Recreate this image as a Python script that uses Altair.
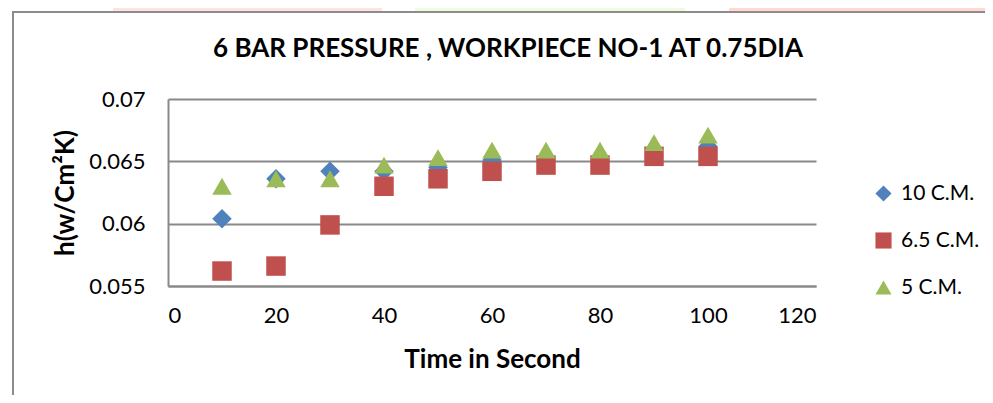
import altair as alt
import pandas as pd

time_s = [10, 20, 30, 40, 50, 60, 70, 80, 90, 100]
series = ["10 C.M.", "6.5 C.M.", "5 C.M."]
h_10 = [0.0604, 0.0636, 0.0642, 0.0642, 0.0645, 0.0651, 0.0650, 0.0650, 0.0655, 0.0662]
h_65 = [0.0562, 0.0566, 0.0599, 0.0630, 0.0636, 0.0642, 0.0647, 0.0647, 0.0654, 0.0654]
h_5 = [0.0630, 0.0636, 0.0636, 0.0647, 0.0653, 0.0659, 0.0659, 0.0659, 0.0665, 0.0671]
colors = ["#4F81BD", "#C0504D", "#9BBB59"]
shapes = ["diamond", "square", "triangle-up"]
x_ticks = [0, 20, 40, 60, 80, 100, 120]
y_ticks = [0.055, 0.06, 0.065, 0.07]

rows = []
for name, vals in zip(series, [h_10, h_65, h_5]):
    for t, v in zip(time_s, vals):
        rows.append({"Time": t, "h": v, "Series": name})
df = pd.DataFrame(rows)

FONT = "Lato"
W, H = 648, 187
GRID = "#898989"

points = alt.Chart(df).mark_point(filled=True, opacity=1, size=380, strokeWidth=0).encode(
    x=alt.X("Time:Q", scale=alt.Scale(domain=[0, 120], nice=False, zero=False),
            axis=alt.Axis(values=x_ticks, title="Time in Second", grid=False, ticks=False,
                          domainColor=GRID, domainWidth=2, labelFont=FONT, labelFontSize=22,
                          labelColor="#000000", labelPadding=19, titleFont=FONT, titleFontSize=26,
                          titleFontWeight="bold", titleColor="#000000", titleY=73,
                          titleBaseline="middle")),
    y=alt.Y("h:Q", scale=alt.Scale(domain=[0.055, 0.07], nice=False, zero=False),
            axis=alt.Axis(values=y_ticks, format="~g", title="h(w/Cm²K)", grid=True, gridColor=GRID,
                          gridWidth=2, ticks=False, domainColor=GRID, domainWidth=2, labelFont=FONT,
                          labelFontSize=22, labelColor="#000000", labelPadding=23, titleFont=FONT,
                          titleFontSize=26, titleFontWeight="bold", titleColor="#000000",
                          titleX=-103, titleBaseline="middle", titleAngle=-90)),
    color=alt.Color("Series:N", scale=alt.Scale(domain=series, range=colors),
                    legend=alt.Legend(title=None)),
    shape=alt.Shape("Series:N", scale=alt.Scale(domain=series, range=shapes),
                    legend=alt.Legend(title=None)),
    order=alt.Order("idx:Q"),
).transform_calculate(idx="indexof(['10 C.M.','6.5 C.M.','5 C.M.'], datum.Series)")

frame_df = pd.DataFrame({"a": [0]})
wm1 = alt.Chart(frame_df).mark_rect(color="#FFE3E3").encode(
    x=alt.value(-55), x2=alt.value(214), y=alt.value(-99), y2=alt.value(-88))
wm2 = alt.Chart(frame_df).mark_rect(color="#EEFBE0").encode(
    x=alt.value(247), x2=alt.value(517), y=alt.value(-99), y2=alt.value(-88))
wm3 = alt.Chart(frame_df).mark_rect(color="#FFDAD4").encode(
    x=alt.value(561), x2=alt.value(820), y=alt.value(-99), y2=alt.value(-88))
frame_v = alt.Chart(frame_df).mark_rule(color="#8c8c8c", strokeWidth=2).encode(
    x=alt.value(-155), y=alt.value(-87), y2=alt.value(300))
frame_h = alt.Chart(frame_df).mark_rule(color="#8c8c8c", strokeWidth=2).encode(
    x=alt.value(-156), x2=alt.value(820), y=alt.value(-87))

chart = alt.layer(wm1, wm2, wm3, frame_v, frame_h, points).properties(
    width=W, height=H,
    title=alt.TitleParams("6 BAR PRESSURE , WORKPIECE NO-1 AT 0.75DIA", font=FONT, fontSize=26,
                          fontWeight="bold", color="#000000", anchor="middle", dx=16, offset=-62),
    autosize=alt.AutoSizeParams(type="none"),
    padding={"left": 160, "top": 91, "right": 169, "bottom": 109},
).configure_view(stroke=None).configure_legend(
    orient="none", legendX=705, legendY=84, padding=0, labelFont=FONT, labelFontSize=21,
    labelColor="#000000", symbolSize=260, rowPadding=25, labelOffset=7, symbolStrokeWidth=0
)

chart.save("out.html", embed_options={"renderer": "svg", "actions": False})
